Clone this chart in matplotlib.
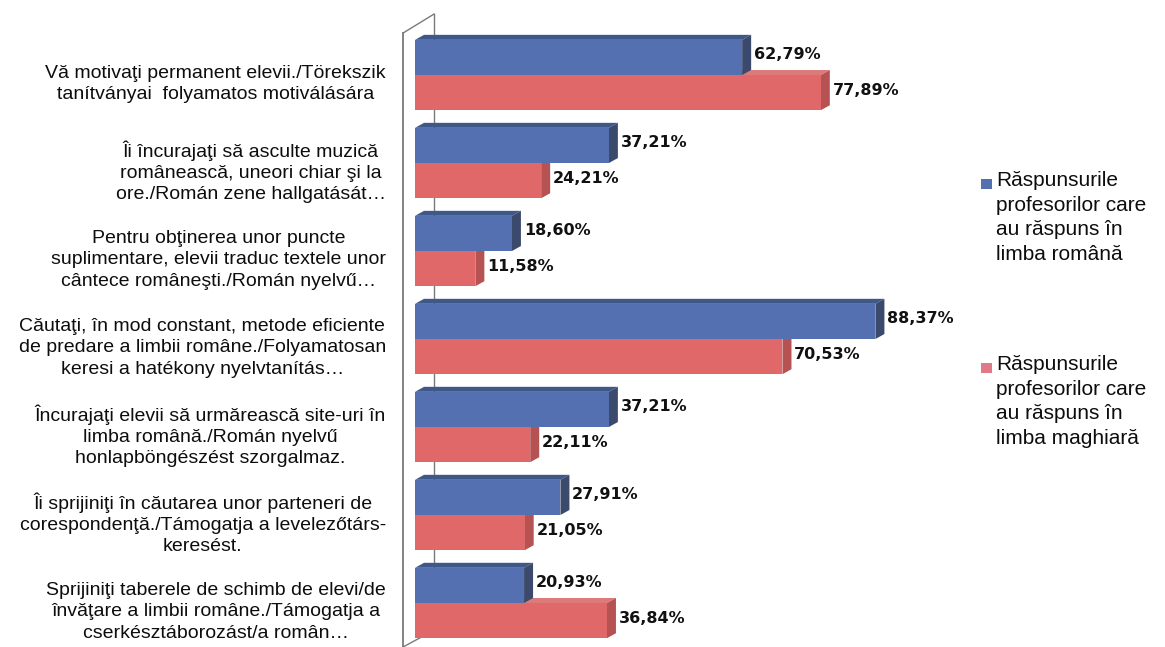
import matplotlib
matplotlib.use("Agg")
import matplotlib.pyplot as plt
from matplotlib.patches import Polygon, Rectangle

categories = [
    "Vă motivaţi permanent elevii./Törekszik\ntanítványai  folyamatos motiválására",
    "Îi încurajaţi să asculte muzică\nromânească, uneori chiar şi la\nore./Román zene hallgatását…",
    "Pentru obţinerea unor puncte\nsuplimentare, elevii traduc textele unor\ncântece româneşti./Román nyelvű…",
    "Căutaţi, în mod constant, metode eficiente\nde predare a limbii române./Folyamatosan\nkeresi a hatékony nyelvtanítás…",
    "Încurajaţi elevii să urmărească site-uri în\nlimba română./Román nyelvű\nhonlapböngészést szorgalmaz.",
    "Îi sprijiniţi în căutarea unor parteneri de\ncorespondenţă./Támogatja a levelezőtárs-\nkeresést.",
    "Sprijiniţi taberele de schimb de elevi/de\nînvăţare a limbii române./Támogatja a\ncserkésztáborozást/a român…",
]
ro_values = [62.79, 37.21, 18.60, 88.37, 37.21, 27.91, 20.93]
hu_values = [77.89, 24.21, 11.58, 70.53, 22.11, 21.05, 36.84]
series_names = [
    "Răspunsurile\nprofesorilor care\nau răspuns în\nlimba română",
    "Răspunsurile\nprofesorilor care\nau răspuns în\nlimba maghiară",
]

W, H = 1165, 647
fig = plt.figure(figsize=(W / 100, H / 100), dpi=100)
fig.patch.set_facecolor("white")

# axes placed in pixels so the 3d offsets can be given in pixels too
x0_px, x1_px = 402, 936
y_top_px, y_bot_px = 19.6, 647
ax = fig.add_axes([x0_px / W, 1 - y_bot_px / H, (x1_px - x0_px) / W, (y_bot_px - y_top_px) / H])
ax.set_xlim(-2.5, 100)
ax.set_ylim(6.5, -0.63)
ax.axis("off")

px_x = (x1_px - x0_px) / 102.5
px_y = (y_bot_px - y_top_px) / 7.13
dx = 9 / px_x      # depth offset to the right
dy = 5 / px_y      # depth offset upwards
bh = 0.40

# side wall of the 3d plot
wall_c = "#7a7a7a"
fx = (403 - 415) / px_x
bx = (434 - 415) / px_x
ax.plot([fx, fx], [-0.477, 6.5], color=wall_c, lw=1.3, clip_on=False, zorder=1)
ax.plot([fx, bx], [-0.477, -0.693], color=wall_c, lw=1.0, clip_on=False, zorder=1)
ax.plot([bx, bx], [-0.693, 6.31], color=wall_c, lw=1.0, clip_on=False, zorder=1)
ax.plot([fx, bx], [6.5, 6.31], color=wall_c, lw=1.0, clip_on=False, zorder=1)

blue = dict(front="#5470b0", top="#3f5888", side="#3b4a6c")
red = dict(front="#e06868", top="#dc7a7a", side="#b65252")


def bar3d(y_top, value, col, z):
    y_bot = y_top + bh
    ax.barh(y_top + bh / 2, value, height=bh, color=col["front"], zorder=z + 0.2)
    top = [(0, y_top), (value, y_top), (value + dx, y_top - dy), (dx, y_top - dy)]
    side = [(value, y_top), (value + dx, y_top - dy), (value + dx, y_bot - dy), (value, y_bot)]
    ax.add_patch(Polygon(top, closed=True, facecolor=col["top"], edgecolor="none", zorder=z))
    ax.add_patch(Polygon(side, closed=True, facecolor=col["side"], edgecolor="none", zorder=z + 0.1))


def pct(v):
    return f"{v:.2f}%".replace(".", ",")


lab_font = dict(family="DejaVu Sans", weight="bold", size=11.5, color="#111111")
for i, (b, r) in enumerate(zip(ro_values, hu_values)):
    z = 2 + i
    bar3d(i, r, red, z)
    bar3d(i - bh, b, blue, z + 0.5)
    ax.annotate(pct(b), (b + dx, i - bh / 2 - dy / 2), xytext=(2, 0), textcoords="offset points",
                va="center", ha="left", zorder=20, **lab_font)
    ax.annotate(pct(r), (r + dx, i + bh / 2 - dy / 2), xytext=(2, 0), textcoords="offset points",
                va="center", ha="left", zorder=20, **lab_font)

# category labels, right aligned block, centred lines
for i, txt in enumerate(categories):
    yc = 75 + 88 * i + 9
    fig.text(386 / W, 1 - yc / H, txt, ha="right", va="center", multialignment="center",
             family="Liberation Sans", fontsize=14, color="#0d0d0d", linespacing=1.32)

# legend
leg_cols = [blue["front"], "#e07a88"]
leg_y = [183, 367]
for name, c, y in zip(series_names, leg_cols, leg_y):
    fig.add_artist(Rectangle((981 / W, 1 - (y + 6) / H), 11 / W, 10 / H, transform=fig.transFigure,
                             facecolor=c, edgecolor="none"))
    fig.text(996 / W, 1 - (y - 12) / H, name, ha="left", va="top", family="Liberation Sans",
             fontsize=15, color="#0d0d0d", linespacing=1.38)

fig.savefig("out.png", dpi=100, facecolor="white")
